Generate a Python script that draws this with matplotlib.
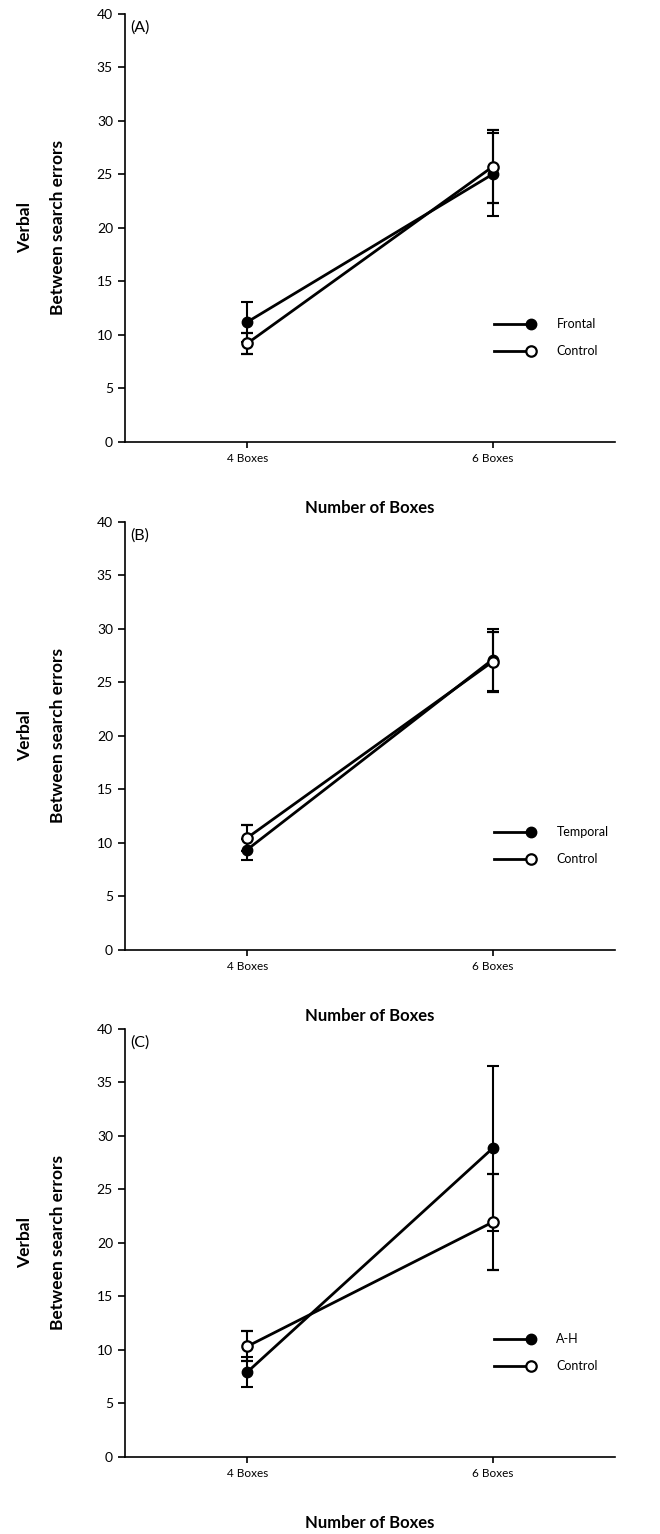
import numpy as np
import matplotlib.pyplot as plt
from matplotlib.lines import Line2D
from matplotlib.legend_handler import HandlerLine2D

plt.rcParams['font.family'] = ['Lato', 'DejaVu Sans']

conds = ["4 Boxes", "6 Boxes"]
yticks = [0, 5, 10, 15, 20, 25, 30, 35, 40]

panels = ["(A)", "(B)", "(C)"]
groups = ["Frontal", "Temporal", "A-H"]

patient = [[11.2, 25.0], [9.35, 27.1], [7.9, 28.8]]
patient_err = [[1.9, 3.9], [0.95, 2.9], [1.4, 7.7]]
control = [[9.2, 25.7], [10.45, 26.9], [10.3, 21.9]]
control_err = [[1.0, 3.4], [1.2, 2.8], [1.4, 4.5]]


# legend entry: line with the marker only at its right end
class EndMarker(HandlerLine2D):
    def create_artists(self, *args, **kw):
        arts = super().create_artists(*args, **kw)
        for a in arts:
            a.set_markevery([2])
        return arts


fig = plt.figure(figsize=(6.6, 15.34), dpi=100)
bottoms = [0.712, 0.381, 0.0505]
x = np.arange(1, len(conds) + 1)

for i in range(3):
    ax = fig.add_axes([0.189, bottoms[i], 0.743, 0.279])
    ax.errorbar(x, patient[i], yerr=patient_err[i], color='black', lw=2,
                marker='o', ms=7.5, mfc='black', mec='black',
                elinewidth=1.5, capsize=4, capthick=1.5, zorder=3)
    ax.errorbar(x, control[i], yerr=control_err[i], color='black', lw=2,
                marker='o', ms=7.5, mfc='white', mec='black', mew=1.6,
                elinewidth=1.5, capsize=4, capthick=1.5, zorder=4)
    ax.set_xlim(0.5, 2.5)
    ax.set_ylim(0, 40)
    ax.set_yticks(yticks)
    ax.set_xticks(x)
    ax.set_xticklabels(conds, fontsize=8.5)
    ax.tick_params(axis='y', labelsize=10, direction='out', length=5, width=1.2)
    ax.tick_params(axis='x', direction='out', length=4, width=1.2, pad=4)
    for s in ['top', 'right']:
        ax.spines[s].set_visible(False)
    for s in ['left', 'bottom']:
        ax.spines[s].set_linewidth(1.2)
    ax.set_ylabel("Verbal\nBetween search errors", fontsize=12.5,
                  fontweight='bold', labelpad=22, linespacing=2.3)
    ax.set_xlabel("Number of Boxes", fontsize=12, fontweight='bold', labelpad=26)
    ax.text(0.012, 0.985, panels[i], transform=ax.transAxes, fontsize=11.5,
            va='top', ha='left')

    h1 = Line2D([], [], color='black', lw=2, marker='o', ms=7.5,
                mfc='black', mec='black')
    h2 = Line2D([], [], color='black', lw=2, marker='o', ms=7.5,
                mfc='white', mec='black', mew=1.6)
    ax.legend([h1, h2], [groups[i], "Control"], loc='center left',
              bbox_to_anchor=(0.73, 0.243), frameon=False, fontsize=9,
              handler_map={Line2D: EndMarker()},
              handlelength=3.0, handletextpad=2.0, labelspacing=1.2)

fig.savefig("out.png", dpi=100)
